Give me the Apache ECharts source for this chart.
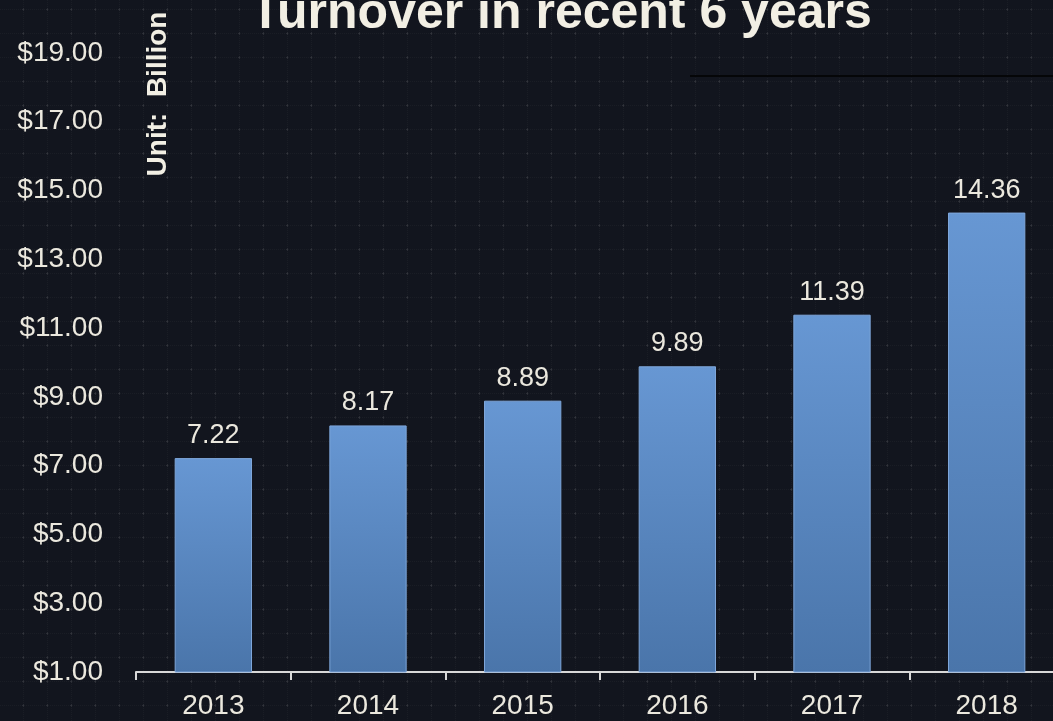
<!DOCTYPE html>
<html>
<head>
<meta charset="utf-8">
<title>Turnover in recent 6 years</title>
<script src="https://cdn.jsdelivr.net/npm/echarts@6/dist/echarts.min.js"></script>
<style>
  html, body { margin: 0; padding: 0; background: #12151e; overflow: hidden; }
  /* the plot runs slightly past the right edge of the window */
  #chart { width: 1064px; height: 721px; }
</style>
</head>
<body>
<div id="chart"></div>
<script>
// Yearly turnover, in billions of dollars
const years = ['2013', '2014', '2015', '2016', '2017', '2018'];
const turnover = [7.22, 8.17, 8.89, 9.89, 11.39, 14.36];
const yTicks = [1, 3, 5, 7, 9, 11, 13, 15, 17, 19];

// Faint slide-style grid texture for the background
function makeTexture() {
  const size = 24;
  const c = document.createElement('canvas');
  c.width = size; c.height = size;
  const g = c.getContext('2d');
  g.fillStyle = '#12151e';
  g.fillRect(0, 0, size, size);
  g.fillStyle = 'rgba(255,255,255,0.035)';
  for (let i = 0; i < size; i += 2) {
    g.fillRect(23, i, 1, 1);
    g.fillRect(i, 9, 1, 1);
  }
  g.fillStyle = 'rgba(255,255,255,0.07)';
  g.fillRect(22, 9, 3, 1);
  g.fillRect(23, 8, 1, 3);
  return c;
}

const chart = echarts.init(document.getElementById('chart'));

chart.setOption({
  backgroundColor: { image: makeTexture(), repeat: 'repeat' },
  textStyle: { fontFamily: '"Liberation Sans", Arial, sans-serif' },
  grid: { left: 136, right: 0, top: 53, bottom: 49, containLabel: false },
  xAxis: {
    type: 'category',
    data: years,
    axisLine: { lineStyle: { color: '#d8d8d8', width: 2 } },
    axisTick: { show: true, alignWithLabel: false, length: 8, lineStyle: { color: '#d8d8d8', width: 2 } },
    axisLabel: { color: '#ebe8de', fontSize: 28, margin: 20 },
    splitLine: { show: false }
  },
  yAxis: {
    type: 'value',
    min: yTicks[0],
    max: yTicks[yTicks.length - 1],
    interval: 2,
    axisLine: { show: false },
    axisTick: { show: false },
    splitLine: { show: false },
    axisLabel: {
      color: '#ebe8de',
      fontSize: 28,
      margin: 33,
      padding: [6, 0, 0, 0],
      formatter: v => '$' + v.toFixed(2)
    }
  },
  series: [{
    type: 'bar',
    data: turnover,
    barWidth: '50%',
    itemStyle: {
      color: new echarts.graphic.LinearGradient(0, 0, 0, 1, [
        { offset: 0, color: '#6797d3' },
        { offset: 1, color: '#4a75aa' }
      ]),
      borderColor: '#7ea6da',
      borderWidth: 1
    },
    label: {
      show: true,
      position: 'top',
      distance: 9,
      color: '#ebe8de',
      fontSize: 27,
      formatter: p => p.value.toFixed(2)
    }
  }],
  graphic: [
    {
      type: 'text',
      x: 561,
      y: 14,
      style: {
        text: 'Turnover in recent 6 years',
        fill: '#f2efe4',
        font: 'bold 50px "Liberation Sans", Arial, sans-serif',
        textAlign: 'center',
        textVerticalAlign: 'middle'
      }
    },
    {
      type: 'text',
      x: 158,
      y: 94,
      rotation: Math.PI / 2,
      style: {
        text: 'Unit:  Billion',
        fill: '#f2efe4',
        font: 'bold 28px "Liberation Sans", Arial, sans-serif',
        textAlign: 'center',
        textVerticalAlign: 'middle'
      }
    },
    {
      type: 'line',
      shape: { x1: 690, y1: 76, x2: 1064, y2: 76 },
      style: { stroke: '#050608', lineWidth: 2 }
    }
  ]
});
</script>
</body>
</html>
